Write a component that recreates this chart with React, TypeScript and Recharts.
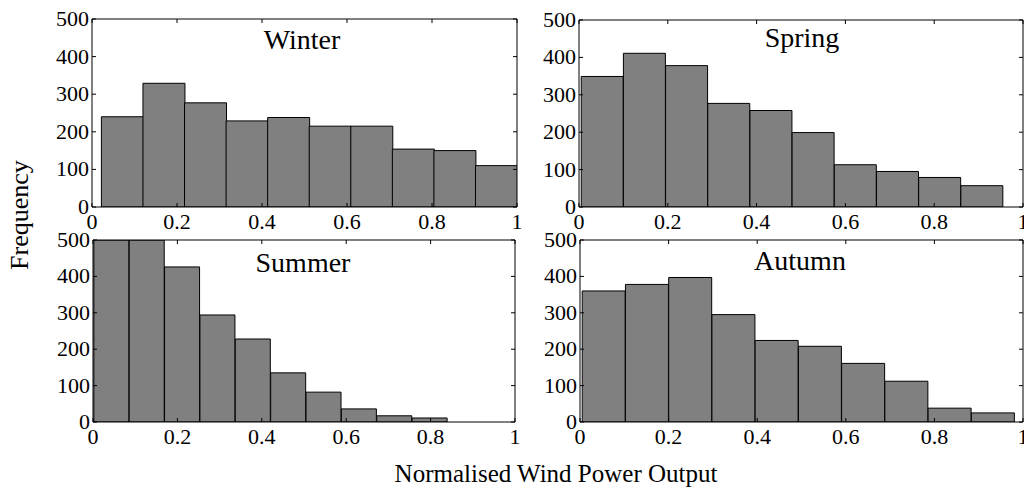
/**
 * Seasonal histograms of normalised wind power output (2x2 grid).
 */

import { BarChart, Bar, XAxis, YAxis } from "recharts";

const SERIF = "'Liberation Serif', 'Times New Roman', serif";

// axis ticks shared by every panel
const xTicks = [0, 0.2, 0.4, 0.6, 0.8, 1];
const yTicks = [0, 100, 200, 300, 400, 500];

// bin centres + counts
const winterBins = [0.071, 0.1688, 0.2666, 0.3644, 0.4622, 0.56, 0.6578, 0.7556, 0.8534, 0.9512];
const winterFreq = [240, 329, 277, 229, 238, 215, 215, 154, 150, 110];

const springBins = [0.0525, 0.1475, 0.2425, 0.3375, 0.4325, 0.5275, 0.6225, 0.7175, 0.8125, 0.9075];
const springFreq = [349, 411, 378, 277, 258, 199, 113, 95, 79, 57];

// first two summer bins run off the top of the axes
const summerBins = [0.0439, 0.1277, 0.2115, 0.2953, 0.3791, 0.4629, 0.5467, 0.6305, 0.7143, 0.7981];
const summerFreq = [500, 500, 426, 294, 228, 135, 82, 36, 17, 11];

const autumnBins = [0.0538, 0.1514, 0.249, 0.3466, 0.4442, 0.5418, 0.6394, 0.737, 0.8346, 0.9322];
const autumnFreq = [360, 378, 397, 295, 224, 208, 161, 112, 38, 25];

const toRows = (bins: number[], freq: number[]) =>
  bins.map((x, i) => ({ x, f: freq[i] }));

// space around the plot box inside each chart
const L = 60;
const R = 10;
const T = 20;
const B = 34;

const XTick = (props: any) => {
  const { x, y, payload } = props;
  return (
    <text x={x} y={y} dy={22} textAnchor="middle" fontFamily={SERIF} fontSize={22} fill="#000">
      {String(payload.value)}
    </text>
  );
};

const YTick = (props: any) => {
  const { x, y, payload } = props;
  return (
    <text x={x} y={y} dy={7} textAnchor="end" fontFamily={SERIF} fontSize={22} fill="#000">
      {String(payload.value)}
    </text>
  );
};

const NoLabel = () => <g />;

type PanelProps = {
  x: number;
  y: number;
  w: number;
  h: number;
  rows: { x: number; f: number }[];
};

function Panel({ x, y, w, h, rows }: PanelProps) {
  const line = { stroke: "#000", strokeWidth: 1 };
  return (
    <div style={{ position: "absolute", left: x - L, top: y - T }}>
      <BarChart
        width={w + L + R}
        height={h + T + B}
        data={rows}
        margin={{ top: 0, right: 0, bottom: 0, left: 0 }}
        barCategoryGap={0}
        barGap={0}
      >
        <XAxis
          xAxisId="b"
          dataKey="x"
          type="number"
          domain={[0, 1]}
          allowDataOverflow
          ticks={xTicks}
          interval={0}
          height={B}
          tickSize={-4}
          tickMargin={4}
          axisLine={line}
          tickLine={line}
          tick={<XTick />}
        />
        <XAxis
          xAxisId="t"
          orientation="top"
          dataKey="x"
          type="number"
          domain={[0, 1]}
          allowDataOverflow
          ticks={xTicks}
          interval={0}
          height={T}
          tickSize={-4}
          axisLine={line}
          tickLine={line}
          tick={NoLabel}
        />
        <YAxis
          yAxisId="l"
          type="number"
          domain={[0, 500]}
          allowDataOverflow
          ticks={yTicks}
          interval={0}
          width={L}
          tickSize={-4}
          tickMargin={7}
          axisLine={line}
          tickLine={line}
          tick={<YTick />}
        />
        <YAxis
          yAxisId="r"
          orientation="right"
          type="number"
          domain={[0, 500]}
          allowDataOverflow
          ticks={yTicks}
          interval={0}
          width={R}
          tickSize={-4}
          axisLine={line}
          tickLine={line}
          tick={NoLabel}
        />
        <Bar
          xAxisId="b"
          yAxisId="l"
          dataKey="f"
          fill="#808080"
          stroke="#000"
          strokeWidth={1}
          isAnimationActive={false}
        />
      </BarChart>
    </div>
  );
}

export default function App() {
  return (
    <div
      style={{
        position: "relative",
        width: 1024,
        height: 488,
        overflow: "hidden",
        background: "#fff",
      }}
    >
      <style>{"body{margin:0;overflow:hidden}"}</style>
      <Panel x={92} y={19} w={425} h={188} rows={toRows(winterBins, winterFreq)} />
      <Panel x={579} y={20} w={444} h={187} rows={toRows(springBins, springFreq)} />
      <Panel x={93} y={240} w={422} h={182} rows={toRows(summerBins, summerFreq)} />
      <Panel x={580} y={240} w={443} h={182} rows={toRows(autumnBins, autumnFreq)} />
      <svg
        width={1024}
        height={488}
        style={{ position: "absolute", left: 0, top: 0, pointerEvents: "none" }}
      >
        <g fontFamily={SERIF} fill="#000" textAnchor="middle">
          <text x={302} y={49} fontSize={28}>Winter</text>
          <text x={802} y={47} fontSize={28}>Spring</text>
          <text x={303} y={272} fontSize={28}>Summer</text>
          <text x={800} y={270} fontSize={28}>Autumn</text>
          <text x={556} y={482} fontSize={25}>Normalised Wind Power Output</text>
          <text x={28} y={215} fontSize={26} transform="rotate(-90 28 215)">Frequency</text>
        </g>
      </svg>
    </div>
  );
}
